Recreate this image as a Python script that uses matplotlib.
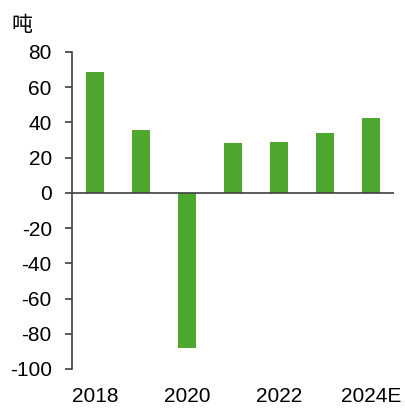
import numpy as np
import matplotlib
matplotlib.use('Agg')
import matplotlib.pyplot as plt

plt.rcParams['font.family'] = ['Liberation Sans', 'Noto Sans CJK SC', 'DejaVu Sans']
plt.rcParams['axes.unicode_minus'] = False

# Данные
years = ['2018', '2019', '2020', '2021', '2022', '2023', '2024E']
values = [68.6, 35.5, -87.9, 28.6, 29.0, 33.8, 42.3]
shown_labels = ['2018', '', '2020', '', '2022', '', '2024E']
unit = '吨'

fig = plt.figure(figsize=(4.06, 4.12), dpi=100)
ax = fig.add_axes([0.1773, 0.1044, 0.7931, 0.7694])

x = np.arange(len(years))
ax.bar(x, values, width=0.4, color='#4EA72E', zorder=2)

# Линия нуля
ax.axhline(0, color='#404040', linewidth=1.2, zorder=3)

ax.set_xlim(-0.5, len(years) - 0.5)
ax.set_ylim(-100, 80)
ax.set_yticks(np.arange(-100, 81, 20))
ax.set_xticks(x)
ax.set_xticklabels(shown_labels)

for side in ['top', 'right', 'bottom']:
    ax.spines[side].set_visible(False)
ax.spines['left'].set_color('#404040')
ax.spines['left'].set_linewidth(1.2)

ax.tick_params(axis='y', length=5, width=1.2, color='#404040', pad=9.5, labelsize=15)
ax.tick_params(axis='x', length=0, pad=13, labelsize=15)

fig.text(11 / 406, 1 - 31 / 412, unit, fontsize=15, family=['Noto Sans CJK SC', 'DejaVu Sans'])

fig.savefig('out.png', dpi=100)
